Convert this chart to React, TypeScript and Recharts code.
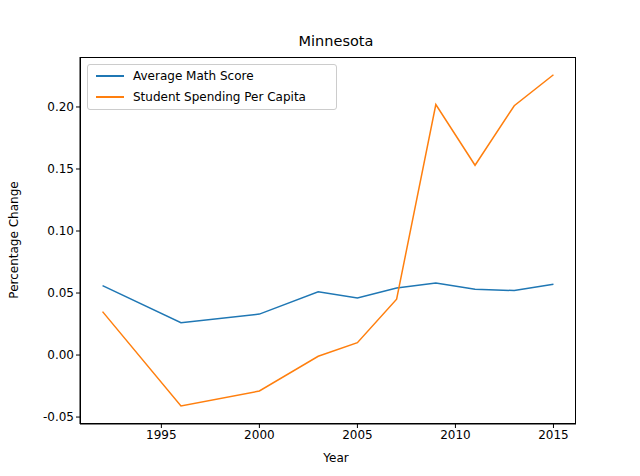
import React from "react";
import { LineChart, Line, XAxis, YAxis } from "recharts";

const years = [1992, 1996, 2000, 2003, 2005, 2007, 2009, 2011, 2013, 2015];
const mathScore = [0.056, 0.026, 0.033, 0.051, 0.046, 0.054, 0.058, 0.053, 0.052, 0.057];
const spending = [0.035, -0.041, -0.029, -0.001, 0.01, 0.045, 0.202, 0.153, 0.201, 0.226];
const xTicks = [1995, 2000, 2005, 2010, 2015];
const yTicks = [-0.05, 0, 0.05, 0.1, 0.15, 0.2];

const data = years.map((y, i) => ({ year: y, math: mathScore[i], spend: spending[i] }));
const font = "DejaVu Sans, sans-serif";

export default function App() {
  return (
    <div style={{ position: "absolute", left: 0, top: 0, width: 640, height: 476, background: "#fff", fontFamily: font }}>
      <LineChart width={640} height={476} data={data} margin={{ top: 57, right: 64, left: 0, bottom: 0 }}>
        <XAxis dataKey="year" type="number" domain={[1990.85, 2016.15]} ticks={xTicks} height={52}
          tick={{ fill: "#000", fontSize: 12, fontFamily: font }} tickLine={{ stroke: "#000" }} tickSize={4} axisLine={{ stroke: "#000" }}
          allowDataOverflow />
        <YAxis type="number" domain={[-0.0556, 0.2403]} ticks={yTicks} width={80} tickFormatter={(v: number) => v.toFixed(2)}
          tick={{ fill: "#000", fontSize: 12, fontFamily: font }} tickLine={{ stroke: "#000" }} tickSize={4} axisLine={{ stroke: "#000" }}
          allowDataOverflow />
        <Line dataKey="math" stroke="#1f77b4" strokeWidth={1.5} dot={false} isAnimationActive={false} />
        <Line dataKey="spend" stroke="#ff7f0e" strokeWidth={1.5} dot={false} isAnimationActive={false} />
      </LineChart>
      <div style={{ position: "absolute", left: 80, top: 57, width: 496, height: 367, border: "1px solid #000", boxSizing: "border-box", pointerEvents: "none" }} />
      <div style={{ position: "absolute", left: 0, width: 640, top: 33, textAlign: "center", fontSize: 14.5, paddingLeft: 16 }}>Minnesota</div>
      <div style={{ position: "absolute", left: 0, width: 640, top: 451, textAlign: "center", fontSize: 12, paddingLeft: 16 }}>Year</div>
      <div style={{ position: "absolute", left: 14, top: 240, fontSize: 12, transform: "translate(-50%,-50%) rotate(-90deg)", whiteSpace: "nowrap" }}>Percentage Change</div>
      <div style={{ position: "absolute", left: 87, top: 64, width: 250, height: 46, border: "1px solid #ccc", borderRadius: 3, background: "#fff", fontSize: 12, boxSizing: "border-box" }}>
        <div style={{ position: "absolute", left: 8, top: 4, display: "flex", alignItems: "center" }}>
          <span style={{ width: 28, height: 2, background: "#1f77b4", marginRight: 9 }} />Average Math Score
        </div>
        <div style={{ position: "absolute", left: 8, top: 25, display: "flex", alignItems: "center" }}>
          <span style={{ width: 28, height: 2, background: "#ff7f0e", marginRight: 9 }} />Student Spending Per Capita
        </div>
      </div>
    </div>
  );
}
